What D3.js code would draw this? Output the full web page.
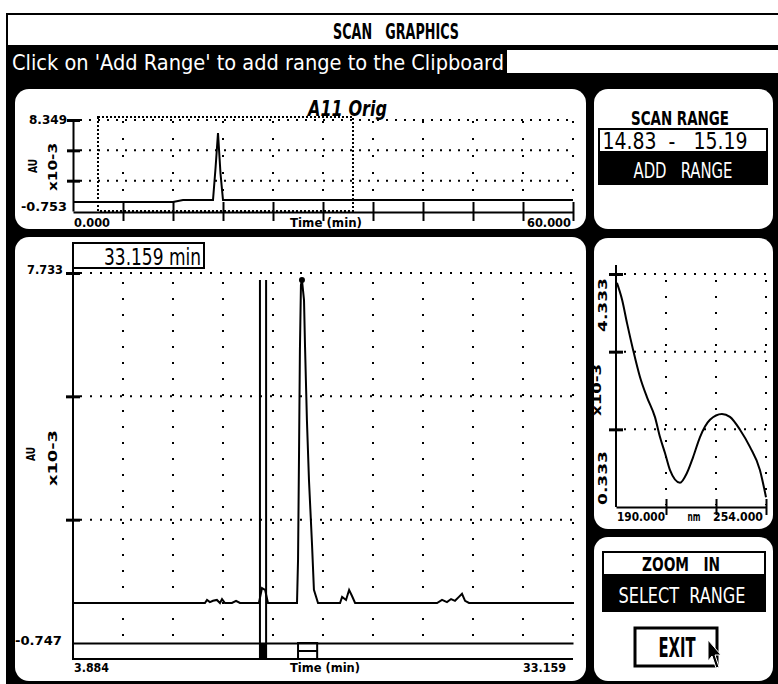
<!DOCTYPE html>
<html>
<head>
<meta charset="utf-8">
<script src="https://cdn.jsdelivr.net/npm/d3@7"></script>
<style>
  body { margin: 0; background: #fff; }
  text { font-family: 'DejaVu Sans Condensed', 'Liberation Sans Narrow', 'DejaVu Sans', sans-serif; white-space: pre; }
</style>
</head>
<body>
<script>
// overview chromatogram (whole run)
var overviewRange = [0, 60];
var overviewSignalRange = [-0.753, 8.349];
var overviewTime = [0, 12.0, 13.2, 16.8, 17.1, 17.4, 17.7, 18.0, 60];
var overviewSignal = [0.15, 0.15, 0.35, 0.35, 3.5, 7.05, 3.0, 0.35, 0.35];
var zoomWindow = [3.0, 33.6];

// zoomed chromatogram
var mainRange = [3.884, 33.159];
var mainSignalRange = [-0.747, 7.733];
var mainTime = [3.884, 11.61, 11.73, 11.90, 12.08, 12.31, 12.49, 12.61, 12.78, 13.19, 13.43, 13.66,
  14.77, 14.95, 15.13, 15.30, 17.00, 17.06, 17.12, 17.17, 17.23, 17.29, 17.41, 17.47, 17.58, 17.70,
  17.88, 17.99, 18.23, 19.52, 19.64, 19.87, 20.05, 20.22, 20.40, 25.20, 25.49, 25.78, 26.02, 26.25,
  26.48, 26.66, 26.84, 27.07, 33.159];
var mainSignal = [0.17, 0.17, 0.24, 0.19, 0.22, 0.24, 0.17, 0.26, 0.17, 0.17, 0.22, 0.17,
  0.17, 0.51, 0.47, 0.17, 0.17, 1.16, 3.68, 5.97, 7.46, 7.57, 7.11, 6.04, 4.36, 2.99,
  1.50, 0.47, 0.17, 0.17, 0.31, 0.24, 0.47, 0.33, 0.17, 0.17, 0.24, 0.19, 0.26, 0.22,
  0.31, 0.38, 0.22, 0.17, 0.17];
var scanRange = [14.83, 15.19];
var peakWindow = [17.06, 18.18];

// UV spectrum at the scan range
var specRange = [190, 254];
var specSignalRange = [0.333, 4.333];
var specWavelength = [190.4, 192.6, 194.7, 197.3, 200.2, 203.2, 206.6, 208.8, 210.9, 213.0, 217.3,
  220.3, 222.9, 225.8, 230.1, 235.2, 238.6, 242.9, 247.2, 251.4, 254.0];
var specSignal = [4.18, 3.89, 3.49, 3.03, 2.57, 2.22, 1.88, 1.53, 1.26, 0.97, 0.75,
  0.92, 1.19, 1.53, 1.83, 1.93, 1.88, 1.66, 1.36, 0.97, 0.50];

// tick labels
var overviewLabels = ['8.349', '-0.753', '0.000', '60.000'];
var mainLabels = ['7.733', '-0.747', '3.884', '33.159'];
var specLabels = ['4.333', '0.333', '190.000', '254.000'];

var width = 778, height = 684;

var svg = d3.select('body').append('svg')
  .attr('width', width)
  .attr('height', height);

// helper for squeezed bitmap-like text
function label(g, str, x, y, size, len, anchor, opt) {
  opt = opt || {};
  var t = g.append('text')
    .attr('x', x).attr('y', y)
    .attr('font-size', size)
    .attr('font-weight', opt.weight || 'bold')
    .attr('text-anchor', anchor || 'start')
    .attr('fill', opt.fill || '#000')
    .attr('xml:space', 'preserve')
    .text(str);
  if (opt.italic) t.attr('font-style', 'italic');
  if (len) t.attr('textLength', len).attr('lengthAdjust', 'spacingAndGlyphs');
  if (opt.rotate) t.attr('transform', 'rotate(-90,' + x + ',' + y + ')');
  return t;
}

function dotted(g, x1, y1, x2, y2, dash) {
  g.append('line')
    .attr('x1', x1).attr('y1', y1).attr('x2', x2).attr('y2', y2)
    .attr('stroke', '#000').attr('stroke-width', 2)
    .attr('stroke-dasharray', dash);
}

//---- screen frame
svg.append('rect').attr('x', 6).attr('y', 13).attr('width', 772).attr('height', 671).attr('fill', '#000');
svg.append('rect').attr('x', 8).attr('y', 15).attr('width', 770).attr('height', 30).attr('fill', '#fff');
label(svg, 'SCAN   GRAPHICS', 396, 39, 22, 126, 'middle');
label(svg, "Click on 'Add Range' to add range to the Clipboard", 12, 70, 22, 492, 'start', { weight: 'normal', fill: '#fff' });
svg.append('rect').attr('x', 507).attr('y', 50).attr('width', 271).attr('height', 23).attr('fill', '#fff');

// panels
var panels = [[15, 89, 571, 140], [594, 89, 179, 140], [15, 237, 571, 444], [594, 238, 179, 291], [594, 537, 179, 144]];
svg.selectAll('rect.panel').data(panels).enter().append('rect')
  .attr('class', 'panel')
  .attr('x', function(d) { return d[0]; })
  .attr('y', function(d) { return d[1]; })
  .attr('width', function(d) { return d[2]; })
  .attr('height', function(d) { return d[3]; })
  .attr('rx', 14).attr('fill', '#fff');

//---- overview chart
var overview = svg.append('g');
var xTop = d3.scaleLinear().domain(overviewRange).range([73, 573]);
var yTop = d3.scaleLinear().domain(overviewSignalRange).range([211, 120]);
var topY = d3.range(1, 4).map(function(i) {
  return overviewSignalRange[0] + i * (overviewSignalRange[1] - overviewSignalRange[0]) / 3;
});
var topX = d3.range(1, 11).map(function(i) { return i * 6; });

topY.forEach(function(v) { dotted(overview, 80, yTop(v), 573, yTop(v), '2,7'); });
topX.forEach(function(v) { dotted(overview, xTop(v), 121, xTop(v), 201, '2,15'); });

// zoom window
overview.append('rect')
  .attr('x', xTop(zoomWindow[0])).attr('y', 117)
  .attr('width', xTop(zoomWindow[1]) - xTop(zoomWindow[0])).attr('height', 94)
  .attr('fill', 'none').attr('stroke', '#000').attr('stroke-width', 2).attr('stroke-dasharray', '2,2');

var topXAxis = overview.append('g').attr('transform', 'translate(0,212)')
  .call(d3.axisBottom(xTop).tickValues(topX).tickFormat('').tickSizeOuter(0));
topXAxis.selectAll('.tick line').attr('y1', -10).attr('y2', 9).attr('stroke-width', 2);
topXAxis.select('.domain').attr('stroke-width', 2);

var topYAxis = overview.append('g').attr('transform', 'translate(73,0)')
  .call(d3.axisLeft(yTop).tickValues(topY).tickFormat('').tickSizeOuter(0));
topYAxis.selectAll('.tick line').attr('x1', -6).attr('x2', 7).attr('stroke-width', 3);
topYAxis.select('.domain').attr('stroke-width', 2);

var topLine = d3.line()
  .x(function(d) { return xTop(d[0]); })
  .y(function(d) { return yTop(d[1]); });
overview.append('path')
  .datum(d3.zip(overviewTime, overviewSignal))
  .attr('d', topLine)
  .attr('fill', 'none').attr('stroke', '#000').attr('stroke-width', 2);

label(overview, overviewLabels[0], 67, 124, 12, 38, 'end');
label(overview, overviewLabels[1], 67, 211, 12, 46, 'end');
label(overview, overviewLabels[2], 74, 227, 12, 36, 'start');
label(overview, overviewLabels[3], 571, 227, 12, 44, 'end');
label(overview, 'Time (min)', 326, 227, 12, 72, 'middle');
label(overview, 'A11 Orig', 308, 116, 21, 79, 'start', { italic: true });
label(overview, 'AU', 37, 166, 12, 14, 'middle', { rotate: true });
label(overview, 'x10-3', 57, 167, 12, 48, 'middle', { rotate: true });

//---- scan range panel
label(svg, 'SCAN RANGE', 680, 125, 20, 98, 'middle');
svg.append('rect').attr('x', 599).attr('y', 129).attr('width', 168).attr('height', 23)
  .attr('fill', '#fff').attr('stroke', '#000').attr('stroke-width', 2);
label(svg, scanRange[0].toFixed(2) + '  -   ' + scanRange[1].toFixed(2), 675, 149, 23, 145, 'middle', { weight: 'normal' });
svg.append('rect').attr('x', 598).attr('y', 152).attr('width', 170).attr('height', 33).attr('fill', '#000');
label(svg, 'ADD   RANGE', 683, 178, 21, 99, 'middle', { weight: 'normal', fill: '#fff' });

//---- main chart
var main = svg.append('g');
var xMain = d3.scaleLinear().domain(mainRange).range([73, 573]);
var yMain = d3.scaleLinear().domain(mainSignalRange).range([643, 273]);
var mainY = d3.range(1, 4).map(function(i) {
  return mainSignalRange[0] + i * (mainSignalRange[1] - mainSignalRange[0]) / 3;
});
var mainX = d3.range(1, 11).map(function(i) {
  return mainRange[0] + i * (mainRange[1] - mainRange[0]) / 10;
});

mainY.forEach(function(v) { dotted(main, 80, yMain(v), 573, yMain(v), '2,8'); });
mainX.forEach(function(v) { dotted(main, xMain(v), 282, xMain(v), 643, '2,14'); });

// marker strip under the axis
main.append('line').attr('x1', 73).attr('x2', 573).attr('y1', 659).attr('y2', 659)
  .attr('stroke', '#000').attr('stroke-width', 2);
main.append('rect')
  .attr('x', xMain(scanRange[0])).attr('y', 643)
  .attr('width', xMain(scanRange[1]) - xMain(scanRange[0])).attr('height', 16)
  .attr('fill', '#000');
main.append('rect')
  .attr('x', xMain(peakWindow[0])).attr('y', 643)
  .attr('width', xMain(peakWindow[1]) - xMain(peakWindow[0])).attr('height', 16)
  .attr('fill', 'none').attr('stroke', '#000').attr('stroke-width', 2);
main.append('line')
  .attr('x1', xMain(peakWindow[0])).attr('x2', xMain(peakWindow[1])).attr('y1', 651).attr('y2', 651)
  .attr('stroke', '#000').attr('stroke-width', 2);

var mainXAxis = main.append('g').attr('transform', 'translate(0,643)')
  .call(d3.axisBottom(xMain).tickValues([]).tickSizeOuter(0));
mainXAxis.select('.domain').attr('stroke-width', 2);

var mainYAxis = main.append('g').attr('transform', 'translate(73,0)')
  .call(d3.axisLeft(yMain).tickValues(mainY).tickFormat('').tickSizeOuter(0));
mainYAxis.selectAll('.tick line').attr('x1', -7).attr('x2', 7).attr('stroke-width', 3);
mainYAxis.select('.domain').attr('d', 'M0,268V660').attr('stroke-width', 2);

var mainLine = d3.line()
  .x(function(d) { return xMain(d[0]); })
  .y(function(d) { return yMain(d[1]); });
main.append('path')
  .datum(d3.zip(mainTime, mainSignal))
  .attr('d', mainLine)
  .attr('fill', 'none').attr('stroke', '#000').attr('stroke-width', 2);

// scan range cursors
main.selectAll('line.cursor').data(scanRange).enter().append('line')
  .attr('class', 'cursor')
  .attr('x1', function(d) { return xMain(d); })
  .attr('x2', function(d) { return xMain(d); })
  .attr('y1', yMain(d3.max(mainSignal))).attr('y2', 659)
  .attr('stroke', '#000').attr('stroke-width', 2);

// apex marker
var apex = d3.maxIndex(mainSignal);
main.append('circle')
  .attr('cx', xMain(mainTime[apex])).attr('cy', yMain(mainSignal[apex]))
  .attr('r', 3).attr('fill', '#000');

main.append('rect').attr('x', 73).attr('y', 243).attr('width', 131).attr('height', 25)
  .attr('fill', '#fff').attr('stroke', '#000').attr('stroke-width', 2);
label(main, mainRange[1].toFixed(3) + ' min', 201, 265, 23, 97, 'end', { weight: 'normal' });

label(main, mainLabels[0], 63, 274, 12, 36, 'end');
label(main, mainLabels[1], 62, 645, 12, 47, 'end');
label(main, mainLabels[2], 74, 672, 12, 35, 'start');
label(main, mainLabels[3], 566, 672, 12, 43, 'end');
label(main, 'Time (min)', 325, 672, 12, 70, 'middle');
label(main, 'AU', 35, 454, 12, 14, 'middle', { rotate: true });
label(main, 'x10-3', 57, 458, 12, 56, 'middle', { rotate: true });

//---- spectrum
var spec = svg.append('g');
var xSpec = d3.scaleLinear().domain(specRange).range([616, 766]);
var ySpec = d3.scaleLinear().domain(specSignalRange).range([507, 274]);
var specY = d3.range(1, 4).map(function(i) {
  return specSignalRange[0] + i * (specSignalRange[1] - specSignalRange[0]) / 3;
});
var specX = d3.range(1, 4).map(function(i) {
  return specRange[0] + i * (specRange[1] - specRange[0]) / 3;
});

specY.forEach(function(v) { dotted(spec, 624, ySpec(v), 766, ySpec(v), '2,8'); });
specX.forEach(function(v) { dotted(spec, xSpec(v), 280, xSpec(v), 505, '2,14'); });

var specXAxis = spec.append('g').attr('transform', 'translate(0,507)')
  .call(d3.axisBottom(xSpec).tickValues(specX).tickFormat('').tickSizeOuter(0));
specXAxis.selectAll('.tick line').attr('y1', -8).attr('y2', 8).attr('stroke-width', 2);
specXAxis.select('.domain').attr('stroke-width', 2);

var specYAxis = spec.append('g').attr('transform', 'translate(616,0)')
  .call(d3.axisLeft(ySpec).tickValues(specY).tickFormat('').tickSizeOuter(0));
specYAxis.selectAll('.tick line').attr('x1', -7).attr('x2', 7).attr('stroke-width', 3);
specYAxis.select('.domain').attr('d', 'M0,265V507').attr('stroke-width', 2);

var specLine = d3.line()
  .curve(d3.curveMonotoneX)
  .x(function(d) { return xSpec(d[0]); })
  .y(function(d) { return ySpec(d[1]); });
spec.append('path')
  .datum(d3.zip(specWavelength, specSignal))
  .attr('d', specLine)
  .attr('fill', 'none').attr('stroke', '#000').attr('stroke-width', 2);

label(spec, specLabels[2], 617, 521, 12, 48, 'start');
label(spec, 'nm', 694, 521, 12, 13, 'middle');
label(spec, specLabels[3], 763, 521, 12, 50, 'end');
label(spec, specLabels[0], 607, 305, 12, 54, 'middle', { rotate: true });
label(spec, 'x10-3', 601, 390, 12, 52, 'middle', { rotate: true });
label(spec, specLabels[1], 607, 478, 12, 54, 'middle', { rotate: true });

//---- zoom / exit panel
svg.append('rect').attr('x', 603).attr('y', 552).attr('width', 162).attr('height', 23)
  .attr('fill', '#fff').attr('stroke', '#000').attr('stroke-width', 2);
label(svg, 'ZOOM   IN', 681, 571, 19, 78, 'middle');
svg.append('rect').attr('x', 602).attr('y', 575).attr('width', 164).attr('height', 37).attr('fill', '#000');
label(svg, 'SELECT  RANGE', 682, 603, 21, 127, 'middle', { weight: 'normal', fill: '#fff' });
svg.append('rect').attr('x', 635).attr('y', 628).attr('width', 82).attr('height', 38)
  .attr('fill', '#fff').attr('stroke', '#000').attr('stroke-width', 3);
label(svg, 'EXIT', 677, 657, 27, 37, 'middle');

// mouse pointer
svg.append('path')
  .attr('d', 'M708,640 L708,661 L712,656 L716,668 L719,667 L715,655 L721,655 Z')
  .attr('fill', '#000').attr('stroke', '#fff').attr('stroke-width', 1);
</script>
</body>
</html>
